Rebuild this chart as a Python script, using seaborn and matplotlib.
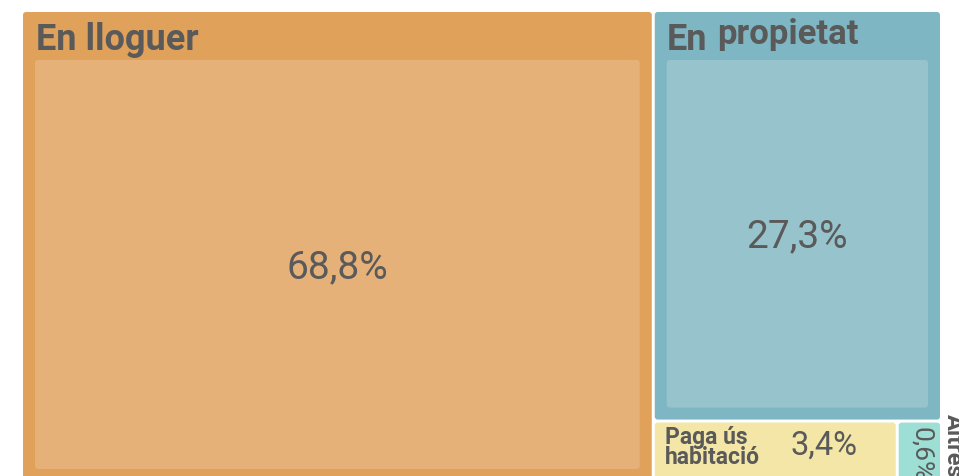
import matplotlib
matplotlib.use("Agg")
import matplotlib.pyplot as plt
from matplotlib.patches import FancyBboxPatch
import seaborn as sns

# ---- data ----
categories = ["En lloguer", "En propietat", "Paga ús\nhabitació", "Altres"]
values = [68.8, 27.3, 3.4, 0.6]
value_labels = ["68,8%", "27,3%", "3,4%", "0,6%"]
outer_colors = ["#E0A25A", "#7EB7C3", "#F3E6A6", "#9DDFD5"]
inner_colors = ["#E5B178", "#97C4CC", None, None]

sns.set_theme(style="white")
plt.rcParams["font.family"] = ["Roboto", "DejaVu Sans"]
TXT = "#5A5A5A"

W_PX, H_PX = 959, 477
fig = plt.figure(figsize=(W_PX / 100, H_PX / 100), dpi=100)
ax = fig.add_axes([0, 0, 1, 1])
ax.set_xlim(0, W_PX)
ax.set_ylim(H_PX, 0)
ax.axis("off")

# treemap region (extends beyond the bottom edge of the picture)
X0, X1, Y0, Y1 = 23, 940, 13, 482
GAP = 3.0
total = sum(values)

# slice-and-dice layout: first item a full-height column,
# second item on top of the right column, the rest in a bottom row
rects = []
xs = X0 + (X1 - X0) * values[0] / total
rects.append((X0, Y0, xs - GAP / 2, Y1))
rest = sum(values[1:])
ys = Y0 + (Y1 - Y0) * values[1] / rest
rects.append((xs + GAP / 2, Y0, X1, ys - GAP / 2))
row_total = sum(values[2:])
cx = xs + GAP / 2
row_w = X1 - cx
for i, v in enumerate(values[2:]):
    w = row_w * v / row_total
    left = cx + (GAP / 2 if i > 0 else 0)
    right = cx + w - (GAP / 2 if i < len(values[2:]) - 1 else 0)
    rects.append((left, ys + GAP / 2, right, Y1))
    cx += w


def box(x0, y0, x1, y1, color):
    ax.add_patch(FancyBboxPatch((x0, y0), x1 - x0, y1 - y0,
                                boxstyle="round,pad=0,rounding_size=3",
                                facecolor=color, edgecolor="none"))


PAD, HEAD = 12, 48
for i, (x0, y0, x1, y1) in enumerate(rects):
    box(x0, y0, x1, y1, outer_colors[i])
    if inner_colors[i]:
        box(x0 + PAD, y0 + HEAD, x1 - PAD, y1 - PAD, inner_colors[i])

# big headers
r = rects[0]
ax.text(r[0] + 13, r[1] + 37, categories[0], fontsize=26, fontweight="bold",
        color=TXT, ha="left", va="baseline")
r = rects[1]
word1, word2 = categories[1].split(" ")
ax.text(r[0] + 12, r[1] + 37, word1, fontsize=26, fontweight="bold",
        color=TXT, ha="left", va="baseline")
ax.text(r[0] + 62, r[1] + 31, word2, fontsize=25, fontweight="bold",
        color=TXT, ha="left", va="baseline")

# values in big boxes
for i in (0, 1):
    x0, y0, x1, y1 = rects[i]
    ax.text((x0 + x1) / 2, (y0 + HEAD + y1 - PAD) / 2 + 2, value_labels[i],
            fontsize=28, color=TXT, ha="center", va="center")

# small boxes
r = rects[2]
ax.text(r[0] + 10, r[1] + 40, categories[2], fontsize=16.5, fontweight="bold",
        color=TXT, ha="left", va="baseline", linespacing=0.8)
ax.text(r[0] + 169, r[1] + 22, value_labels[2], fontsize=23.5, color=TXT,
        ha="center", va="center")

r = rects[3]
ax.text((r[0] + r[2]) / 2 + 2, r[1] + 31, value_labels[3], fontsize=19,
        color=TXT, ha="center", va="center", rotation=-90,
        rotation_mode="anchor")
ax.text(r[2] + 7, r[1] - 10, categories[3], fontsize=17, fontweight="bold",
        color=TXT, ha="left", va="baseline", rotation=-90,
        rotation_mode="anchor")

fig.savefig("out.png", dpi=100)
